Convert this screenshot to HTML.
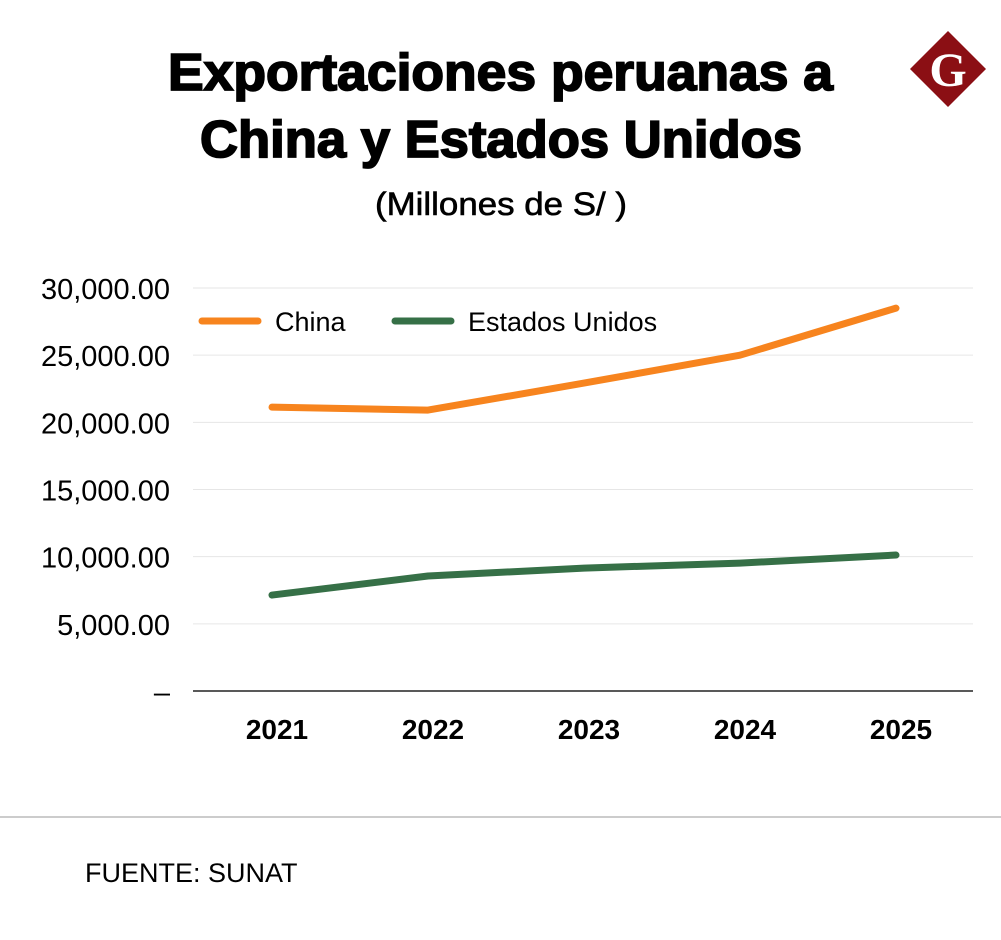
<!DOCTYPE html>
<html><head><meta charset="utf-8"><style>
body{margin:0;background:#fff;width:1001px;height:935px;overflow:hidden;font-family:"Liberation Sans",sans-serif;}
</style></head><body>
<svg width="1001" height="935" xmlns="http://www.w3.org/2000/svg">
<text x="168" y="90" textLength="665" lengthAdjust="spacingAndGlyphs" font-size="52" font-weight="900" font-family="Liberation Sans" stroke="#000" stroke-width="1.8">Exportaciones peruanas a</text>
<text x="200" y="157" textLength="602" lengthAdjust="spacingAndGlyphs" font-size="52" font-weight="900" font-family="Liberation Sans" stroke="#000" stroke-width="1.8">China y Estados Unidos</text>
<text x="375" y="215" textLength="252" lengthAdjust="spacingAndGlyphs" font-size="32" stroke="#000" stroke-width="0.6">(Millones de S/ )</text>
<g>
<polygon points="948,31 986,69 948,107 910,69" fill="#8b0f14"/>
<text x="948" y="86" text-anchor="middle" font-size="48" font-family="Liberation Serif" font-weight="bold" fill="#fff">G</text>
</g>
<g id="grid"></g>
<g id="marks"></g>
<line x1="0" y1="817" x2="1001" y2="817" stroke="#bbb" stroke-width="1.5"/>
<text x="85" y="882" font-size="27">FUENTE: SUNAT</text>
<g>
<line x1="202" y1="321" x2="258" y2="321" stroke="#f7841e" stroke-width="7" stroke-linecap="round"/>
<text x="275" y="331" font-size="27">China</text>
<line x1="395" y1="321" x2="451" y2="321" stroke="#367047" stroke-width="7" stroke-linecap="round"/>
<text x="468" y="331" font-size="27">Estados Unidos</text>
</g>
</svg>
<script>
const years=["2021","2022","2023","2024","2025"];
const china=[21130,20910,22920,25000,28500];
const usa=[7140,8560,9150,9520,10120];
const yTicks=[0,5000,10000,15000,20000,25000,30000];
const yTickLabels=["–","5,000.00","10,000.00","15,000.00","20,000.00","25,000.00","30,000.00"];
const NS="http://www.w3.org/2000/svg";
const x=i=>272+i*156;
const y=v=>691-v*(403/30000);
const grid=document.getElementById('grid'),marks=document.getElementById('marks');
function mk(t,a,p){const e=document.createElementNS(NS,t);for(const k in a)e.setAttribute(k,a[k]);p.appendChild(e);return e;}
yTicks.forEach((v,i)=>{
 if(v>0){const l=mk('line',{x1:193,x2:973,y1:y(v),y2:y(v),stroke:'#e6e6e6','stroke-width':1},grid);
 
 }
 const t=mk('text',{x:170,y:y(v)+11,'text-anchor':'end','font-size':29},grid);t.textContent=yTickLabels[i];
 
 
});
const ax=mk('line',{x1:193,x2:973,y1:691,y2:691,stroke:'#222','stroke-width':1.5},grid);


years.forEach((yr,i)=>{const t=mk('text',{x:x(i)+5,y:739,'text-anchor':'middle','font-size':28,'font-weight':'bold'},grid);t.textContent=yr;
 
 });
function line(d,c,n){const p=mk('polyline',{points:d.map((v,i)=>x(i)+','+y(v)).join(' '),fill:'none',stroke:c,'stroke-width':7,'stroke-linecap':'round','stroke-linejoin':'round'},marks);
 
 }
line(china,'#f7841e','china-line');
line(usa,'#367047','us-line');
</script>
</body></html>
